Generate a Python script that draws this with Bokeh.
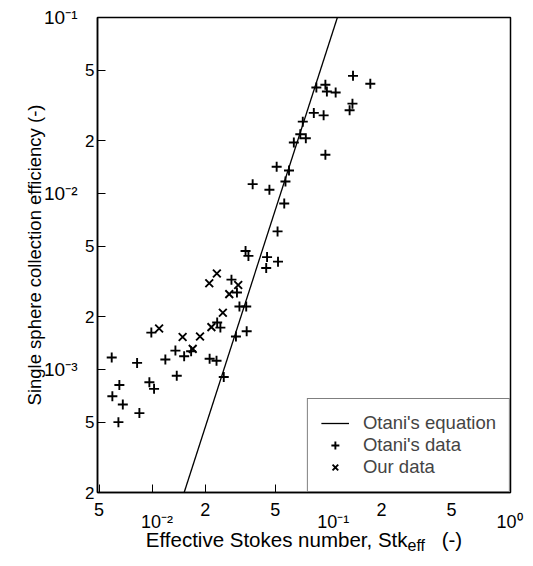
import math
from bokeh.plotting import figure
from bokeh.models import Label, FixedTicker, Legend, LegendItem, Range1d, LogAxis
from bokeh.embed import file_html
from bokeh.resources import INLINE

# ---------------- data ----------------
otani_x = [0.173, 0.138, 0.137, 0.132, 0.0855, 0.0962, 0.0981, 0.110, 0.0827, 0.0940,
           0.0716, 0.0693, 0.0745, 0.0637, 0.0962, 0.0509, 0.0598, 0.0571, 0.0372, 0.0463,
           0.0562, 0.0515, 0.0339, 0.0352, 0.0449, 0.0518, 0.0444, 0.0282, 0.0303, 0.0313,
           0.0342, 0.0234, 0.0244, 0.0344, 0.0299, 0.0099, 0.01356, 0.0152, 0.01665, 0.01189,
           0.00822, 0.0059, 0.0212, 0.0232, 0.0138, 0.0255, 0.00652, 0.00965, 0.01026, 0.00595,
           0.00682, 0.00847, 0.00644]
otani_y = [0.0420, 0.0466, 0.0324, 0.0297, 0.0400, 0.0415, 0.0380, 0.0375, 0.0287, 0.0278,
           0.0256, 0.0217, 0.0206, 0.0195, 0.0166, 0.0142, 0.0135, 0.0117, 0.0113, 0.0105,
           0.00878, 0.00609, 0.00471, 0.00442, 0.00435, 0.00410, 0.00377, 0.00324, 0.00274, 0.00228,
           0.00228, 0.00185, 0.00173, 0.00165, 0.00154, 0.00162, 0.00128, 0.00119, 0.00127, 0.00114,
           0.00109, 0.00117, 0.00115, 0.00112, 0.000922, 0.000907, 0.000817, 0.000846, 0.000776, 0.000705,
           0.000632, 0.000565, 0.000502]

our_x = [0.0233, 0.0211, 0.0308, 0.0274, 0.0252, 0.0217, 0.0187, 0.0149, 0.0170, 0.01096]
our_y = [0.00351, 0.00309, 0.00302, 0.00268, 0.00210, 0.00174, 0.00154, 0.00153, 0.00131, 0.00171]

eq_x = [0.0152, 0.1125]
eq_y = [0.0002, 0.1]

x_ticks = [0.005, 0.01, 0.02, 0.05, 0.1, 0.2, 0.5, 1.0]
x_tick_labels = ["5", "\n\u00a0\u00a010\u207b\u00b2", "2", "5", "\n\u00a0\u00a010\u207b\u00b9", "2", "5",
                 "\n\u00a0\u00a010\u2070"]
y_digit_ticks = [0.05, 0.02, 0.005, 0.002, 0.0005, 0.0002]
y_digit_labels = ["5", "2", "5", "2", "5", "2"]
y_decade_ticks = [0.1, 0.01, 0.001]
y_decade_labels = ["10\u207b\u00b9", "10\u207b\u00b2", "10\u207b\u00b3"]

legend_labels = ["Otani's equation", "Otani's data", "Our data"]
x_title = "Effective Stokes number, Stk" + "\u00a0" * 6 + "(-)"
x_title_sub = "eff"
y_title = "Single sphere collection efficiency (-)"

# ---------------- layout ----------------
FONT = "Liberation Sans"
X0, X1 = 0.0049, 1.08
Y0, Y1 = 0.0002, 0.1
W, H = 532, 564
FL, FT, FW, FH = 97, 17, 413, 475   # frame in page pixels
SX = math.log10(X1 / X0)
SY = math.log10(Y1 / Y0)


def data_x(px):
    return 10 ** (math.log10(X0) + (px - FL) / FW * SX)


def data_y(py):
    return 10 ** (math.log10(Y1) - (py - FT) / FH * SY)


p = figure(width=W, height=H, x_axis_type="log", y_axis_type="log",
           x_range=Range1d(X0, X1), y_range=Range1d(Y0, Y1),
           output_backend="svg", toolbar_location=None,
           min_border_left=FL, min_border_top=FT,
           min_border_right=W - FL - FW, min_border_bottom=H - FT - FH)
p.background_fill_color = "white"
p.border_fill_color = "white"
p.outline_line_color = "black"
p.outline_line_width = 1.5
p.xgrid.visible = False
p.ygrid.visible = False


def style_axis(ax, ticks, labels, size, standoff):
    ax.ticker = FixedTicker(ticks=ticks, minor_ticks=[])
    ax.major_label_overrides = {t: s for t, s in zip(ticks, labels)}
    ax.major_tick_in = 8
    ax.major_tick_out = 0
    ax.minor_tick_in = 0
    ax.minor_tick_out = 0
    ax.major_tick_line_color = "black"
    ax.major_tick_line_width = 1
    ax.axis_line_color = "black"
    ax.axis_line_width = 1.5
    ax.major_label_text_font = FONT
    ax.major_label_text_font_size = size
    ax.major_label_text_color = "black"
    ax.major_label_standoff = standoff


xax = p.xaxis[0]
style_axis(xax, x_ticks, x_tick_labels, "18px", 7)
xax.major_label_text_line_height = 0.62
xax.axis_label = x_title
xax.axis_label_text_font = FONT
xax.axis_label_text_font_size = "20.5px"
xax.axis_label_text_font_style = "normal"
xax.axis_label_text_color = "black"
xax.axis_label_standoff = -7

yax = p.yaxis[0]
style_axis(yax, y_digit_ticks + y_decade_ticks, y_digit_labels + [""] * 3, "17px", 3)

yax2 = LogAxis()
style_axis(yax2, y_decade_ticks, y_decade_labels, "19px", 5)
yax2.major_tick_in = 0
yax2.axis_line_color = None
yax2.axis_label = y_title
yax2.axis_label_text_font = FONT
yax2.axis_label_text_font_size = "18.5px"
yax2.axis_label_text_font_style = "normal"
yax2.axis_label_text_color = "black"
yax2.axis_label_standoff = -4
p.add_layout(yax2, "left")

line_r = p.line(eq_x, eq_y, line_color="black", line_width=1.3)
otani_r = p.scatter(otani_x, otani_y, marker="cross", size=10, line_color="black", line_width=1.9)
our_r = p.scatter(our_x, our_y, marker="x", size=11, line_color="black", line_width=1.9)

legend = Legend(items=[LegendItem(label=legend_labels[0], renderers=[line_r]),
                       LegendItem(label=legend_labels[1], renderers=[otani_r]),
                       LegendItem(label=legend_labels[2], renderers=[our_r])],
                location="bottom_right", margin=0, padding=13, spacing=0,
                label_height=20, glyph_height=20, glyph_width=28, label_standoff=14,
                border_line_color="black", border_line_width=1.2,
                label_text_font=FONT, label_text_font_size="18.5px",
                background_fill_color="white", background_fill_alpha=1)
p.add_layout(legend)

# subscript of the x title (side panel annotation, not clipped to the frame)
p.add_layout(Label(x=data_x(407), y=data_y(545), x_units="data", y_units="data",
                   text=x_title_sub, text_font=FONT, text_font_size="16px",
                   text_color="black", text_align="left", text_baseline="alphabetic"),
             "right")

open("out.html", "w").write(file_html(p, INLINE))
